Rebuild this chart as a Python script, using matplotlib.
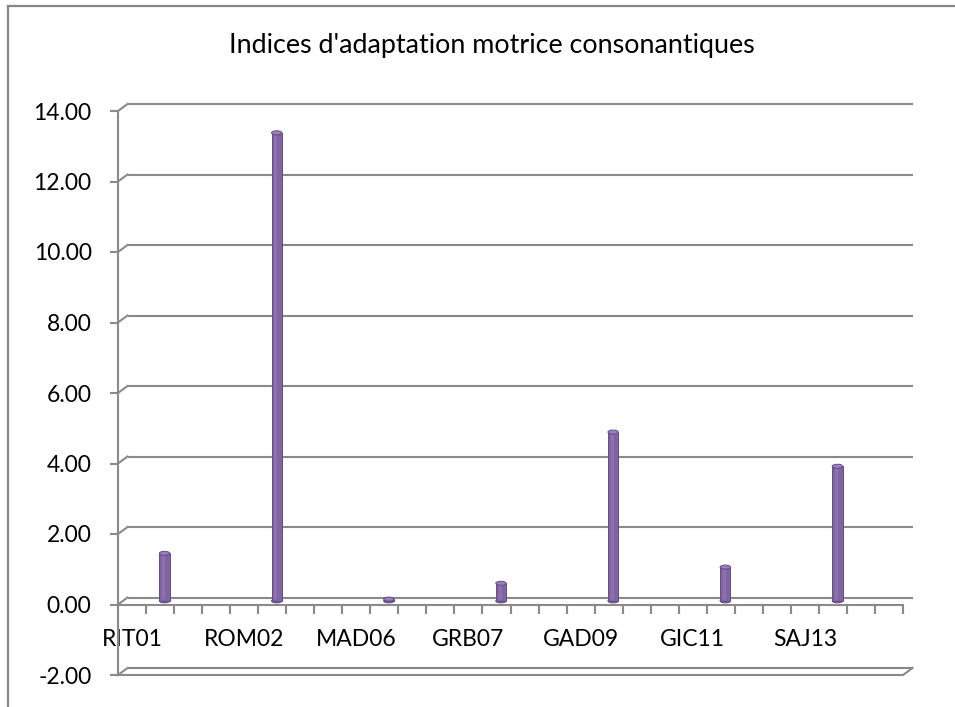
import matplotlib
matplotlib.use("Agg")
import matplotlib.pyplot as plt
import matplotlib.transforms as mtransforms
from matplotlib.patches import Ellipse
from matplotlib.lines import Line2D

# Data
categories = ["RIT01", "ROM02", "MAD06", "GRB07", "GAD09", "GIC11", "SAJ13"]
values = [1.35, 13.28, 0.05, 0.50, 4.79, 0.96, 3.82]
yticks = [-2, 0, 2, 4, 6, 8, 10, 12, 14]
ytick_labels = ["-2.00", "0.00", "2.00", "4.00", "6.00", "8.00", "10.00", "12.00", "14.00"]
title = "Indices d'adaptation motrice consonantiques"

n_slots = 28          # category slots along the floor
group = 4             # slots per labelled participant
bar_slot = 1          # slot inside each group holding the bar

plt.rcParams["font.family"] = ["Lato", "DejaVu Sans"]

DPI = 100
fig = plt.figure(figsize=(9.55, 7.07), dpi=DPI)
W, H = 955, 707

def fx(px):
    return px / W

def fy(py):
    return 1 - py / H

# plotting region: front-left corner of the 3D box
left_px, right_px, top_px, bot_px = 118, 903, 111, 675
ax = fig.add_axes([fx(left_px), fy(bot_px), fx(right_px - left_px), (bot_px - top_px) / H])
ax.set_xlim(0, n_slots)
ax.set_ylim(-2, 14)

grid_c = "#8a8a8a"
lw = 1.5

# depth offsets (back wall and mid depth for the columns)
back = ax.transData + mtransforms.ScaledTranslation(9.5 / DPI, 7 / DPI, fig.dpi_scale_trans)
mid = ax.transData + mtransforms.ScaledTranslation(4.5 / DPI, 3.6 / DPI, fig.dpi_scale_trans)

for s in ["top", "right"]:
    ax.spines[s].set_visible(False)
ax.spines["left"].set_color(grid_c)
ax.spines["left"].set_linewidth(lw)
ax.spines["bottom"].set_position(("data", 0))
ax.spines["bottom"].set_color(grid_c)
ax.spines["bottom"].set_linewidth(lw)

# back-wall gridlines with their bevel to the front
for y in yticks:
    ax.plot([0, n_slots], [y, y], color=grid_c, lw=lw, transform=back, clip_on=False,
            solid_capstyle="butt", zorder=1)
    p0 = ax.transData.transform((0, y))
    p1 = back.transform((0, y))
    fig.add_artist(Line2D([p0[0] / W, p1[0] / W], [p0[1] / H, p1[1] / H],
                          color=grid_c, lw=lw, transform=fig.transFigure))

# floor slab at the minimum
ax.plot([0, n_slots], [-2, -2], color=grid_c, lw=lw, clip_on=False, zorder=1,
        solid_capstyle="butt")
q0 = ax.transData.transform((n_slots, -2))
q1 = back.transform((n_slots, -2))
fig.add_artist(Line2D([q0[0] / W, q1[0] / W], [q0[1] / H, q1[1] / H],
                      color=grid_c, lw=lw, transform=fig.transFigure))

# y axis ticks
ax.set_yticks(yticks)
ax.set_yticklabels(ytick_labels, fontsize=16.5)
ax.tick_params(axis="y", direction="out", length=6, width=lw, color=grid_c, pad=13)

# x axis: tick marks at slot edges, labels at group starts
ax.set_xticks(range(n_slots + 1))
ax.set_xticklabels([])
ax.tick_params(axis="x", which="major", direction="out", length=6.5, width=lw, color=grid_c)
ax.set_xticks([i * group + 0.5 for i in range(len(categories))], minor=True)
ax.set_xticklabels(categories, minor=True, fontsize=16.5)
ax.tick_params(axis="x", which="minor", length=0, pad=17.5)

# cylindrical columns
face = "#8064A2"
edge = "#654c88"
cap_face = "#9a80bd"
bw = 0.37
px_per_unit = (bot_px - top_px) / 16.0
cap_h = 4.0 / px_per_unit
for i, v in enumerate(values):
    xc = i * group + bar_slot + 0.5
    ax.bar(xc, v, width=bw, bottom=0, color=face, edgecolor=edge, linewidth=0.7,
           transform=mid, zorder=3, clip_on=False)
    ax.plot([xc - bw * 0.12, xc - bw * 0.12], [0.05, max(v - 0.05, 0.05)],
            color="#8f74b3", lw=1.8, transform=mid, zorder=4, clip_on=False,
            solid_capstyle="butt")
    ax.add_patch(Ellipse((xc, 0), bw, cap_h, facecolor=face, edgecolor=edge,
                         linewidth=0.7, transform=mid, zorder=2, clip_on=False))
    ax.add_patch(Ellipse((xc, v), bw, cap_h, facecolor=cap_face, edgecolor=edge,
                         linewidth=0.7, transform=mid, zorder=5, clip_on=False))

# chart title
fig.text(fx(492), fy(45), title, ha="center", va="center", fontsize=19.4)

# chart-area border
border_c = "#878787"
fig.add_artist(Line2D([fx(7.5), fx(7.5)], [fy(5.5), 0], color=border_c, lw=1.6,
                      transform=fig.transFigure))
fig.add_artist(Line2D([fx(7.5), 1], [fy(5.5), fy(5.5)], color=border_c, lw=1.6,
                      transform=fig.transFigure))

fig.savefig("out.png", dpi=DPI)
